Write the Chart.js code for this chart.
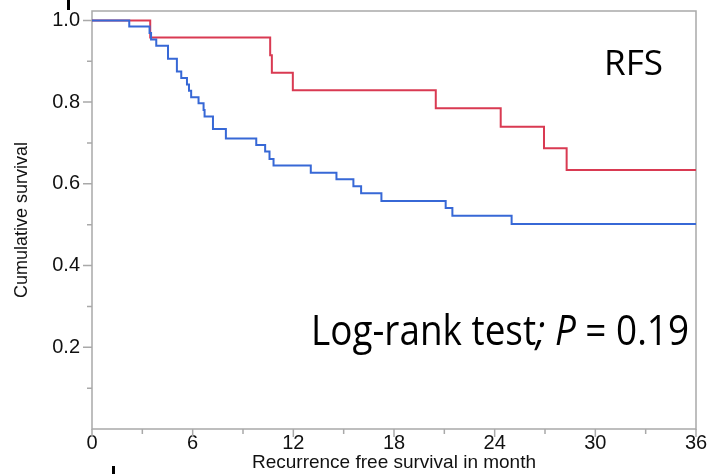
<!DOCTYPE html>
<html>
<head>
<meta charset="utf-8">
<script src="https://cdn.jsdelivr.net/npm/chart.js@4.4.0/dist/chart.umd.min.js"></script>
<style>
    html, body { margin: 0; padding: 0; background: #fff; }
    #wrap { width: 710px; height: 474px; }
</style>
</head>
<body>
<div id="wrap"><canvas id="kmChart"></canvas></div>
<script>
// Kaplan-Meier steps (time in months, survival after the drop)
const blueTimes = [0, 2.22, 3.43, 3.52, 3.83, 4.53, 5.06, 5.32, 5.66, 5.78, 5.91, 6.35, 6.65, 6.71,
    7.21, 7.98, 9.79, 10.32, 10.58, 10.82, 13.04, 14.57, 15.58, 16.04, 17.25, 21.08, 21.48, 25.01, 36];
const blueSurv = [1.0, 0.985, 0.969, 0.953, 0.938, 0.906, 0.875, 0.859, 0.843, 0.828, 0.812, 0.797, 0.781, 0.765,
    0.734, 0.711, 0.695, 0.679, 0.661, 0.645, 0.627, 0.611, 0.594, 0.577, 0.558, 0.541, 0.522, 0.502, 0.502];

const redTimes = [0, 3.47, 10.62, 10.72, 11.97, 20.49, 24.36, 26.94, 28.29, 36];
const redSurv = [1.0, 0.958, 0.915, 0.872, 0.829, 0.785, 0.740, 0.687, 0.634, 0.634];

const xTicks = [0, 6, 12, 18, 24, 30, 36];
const xMinorTicks = [3, 9, 15, 21, 27, 33];
const yTicks = [0.2, 0.4, 0.6, 0.8, 1.0];
const yMinorTicks = [0.1, 0.3, 0.5, 0.7, 0.9];

const AXIS_GREY = '#a9a9a9';
const LABEL_FONT = 'Liberation Sans, Arial, Helvetica, sans-serif';

const toPoints = (times, surv) => times.map((t, i) => ({ x: t, y: surv[i] }));

/**
 * Frame, tick marks and the two text notes
 */
const decorPlugin = {
    id: 'decor',
    beforeDatasetsDraw(chart) {
        const { ctx, chartArea: a, scales: { x, y } } = chart;
        ctx.save();
        ctx.strokeStyle = AXIS_GREY;
        ctx.lineWidth = 1.5;
        ctx.strokeRect(a.left, a.top, a.right - a.left, a.bottom - a.top);

        ctx.beginPath();
        yTicks.forEach(v => { const p = y.getPixelForValue(v); ctx.moveTo(a.left - 9, p); ctx.lineTo(a.left, p); });
        yMinorTicks.forEach(v => { const p = y.getPixelForValue(v); ctx.moveTo(a.left - 5, p); ctx.lineTo(a.left, p); });
        xTicks.forEach(v => { const p = x.getPixelForValue(v); ctx.moveTo(p, a.bottom); ctx.lineTo(p, a.bottom + 8); });
        xMinorTicks.forEach(v => { const p = x.getPixelForValue(v); ctx.moveTo(p, a.bottom); ctx.lineTo(p, a.bottom + 5); });
        ctx.stroke();
        ctx.restore();
    },
    afterDraw(chart) {
        const { ctx } = chart;
        ctx.save();
        ctx.fillStyle = '#000';
        ctx.textBaseline = 'alphabetic';

        // "RFS"
        fitText(ctx, [{ text: 'RFS', style: '' }], 604, 75, 59, 34);

        // "Log-rank test; P = 0.19"
        fitText(ctx, [
            { text: 'Log-rank test', style: '' },
            { text: '; P', style: 'italic ' },
            { text: ' = 0.19', style: '' }
        ], 311, 345, 378, 42);

        // small crop marks left in the original figure
        ctx.fillRect(67, 0, 3, 10);
        ctx.fillRect(112, 466, 3, 8);
        ctx.restore();
    }
};

// draw text pieces squeezed horizontally to a target width
function fitText(ctx, parts, left, baseline, width, size) {
    let total = 0;
    parts.forEach(p => {
        ctx.font = `${p.style}${size}px "Open Sans", sans-serif`;
        total += ctx.measureText(p.text).width;
    });
    const sx = width / total;
    ctx.save();
    ctx.translate(left, baseline);
    ctx.scale(sx, 1);
    let cx = 0;
    parts.forEach(p => {
        ctx.font = `${p.style}${size}px "Open Sans", sans-serif`;
        ctx.fillText(p.text, cx, 0);
        cx += ctx.measureText(p.text).width;
    });
    ctx.restore();
}

const ctx = document.getElementById('kmChart').getContext('2d');
new Chart(ctx, {
    type: 'line',
    data: {
        datasets: [{
            label: 'Blue group',
            data: toPoints(blueTimes, blueSurv),
            borderColor: '#3768d6',
            borderWidth: 2,
            stepped: true,
            pointRadius: 0,
            fill: false
        }, {
            label: 'Red group',
            data: toPoints(redTimes, redSurv),
            borderColor: '#d93a52',
            borderWidth: 2,
            stepped: true,
            pointRadius: 0,
            fill: false
        }]
    },
    options: {
        responsive: true,
        maintainAspectRatio: false,
        animation: false,
        layout: { autoPadding: false, padding: { left: 0, right: 14, top: 11, bottom: 0 } },
        plugins: {
            legend: { display: false },
            tooltip: { enabled: false }
        },
        scales: {
            x: {
                type: 'linear',
                min: 0,
                max: 36,
                afterBuildTicks: s => { s.ticks = xTicks.map(v => ({ value: v })); },
                afterFit: s => { s.height = 45; s.paddingLeft = 0; s.paddingRight = 0; },
                grid: { display: false, drawTicks: false },
                border: { display: false },
                ticks: {
                    color: '#111',
                    padding: 2,
                    maxRotation: 0,
                    autoSkip: false,
                    font: { family: LABEL_FONT, size: 20 }
                },
                title: {
                    display: true,
                    text: 'Recurrence free survival in month',
                    color: '#111',
                    padding: { top: 0, bottom: 0 },
                    font: { family: LABEL_FONT, size: 19 }
                }
            },
            y: {
                min: 0,
                max: 1.023,
                afterBuildTicks: s => { s.ticks = yTicks.map(v => ({ value: v })); },
                afterFit: s => { s.width = 92; s.paddingTop = 0; s.paddingBottom = 0; },
                grid: { display: false, drawTicks: false },
                border: { display: false },
                ticks: {
                    color: '#111',
                    padding: 12,
                    callback: v => v.toFixed(1),
                    font: { family: LABEL_FONT, size: 20 }
                },
                title: {
                    display: true,
                    text: 'Cumulative survival',
                    color: '#111',
                    padding: { top: 11, bottom: 0 },
                    font: { family: LABEL_FONT, size: 18 }
                }
            }
        }
    },
    plugins: [decorPlugin]
});
</script>
</body>
</html>
